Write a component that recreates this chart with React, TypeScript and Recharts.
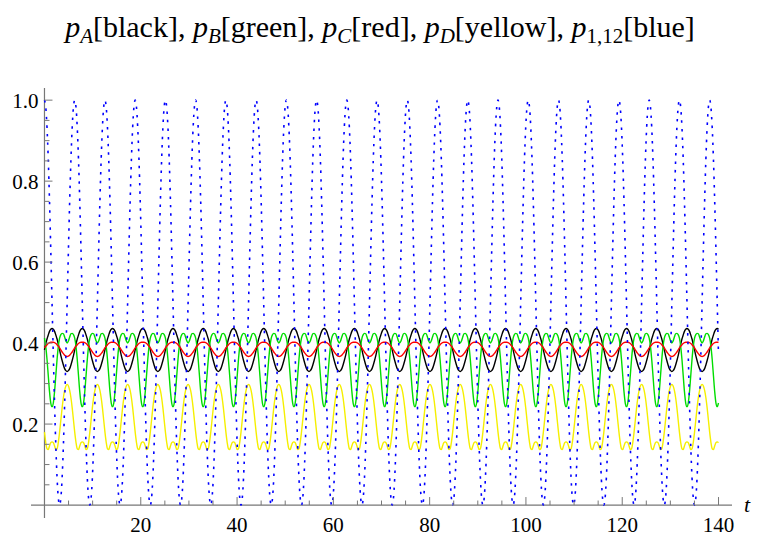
import { LineChart, Line, XAxis, YAxis, ReferenceLine } from "recharts";

// one period of each curve, read at 24 phases 15° apart, starting at t = 0
const blackCycle = [
  0.383, 0.397, 0.41, 0.42, 0.429, 0.434, 0.436, 0.434, 0.429, 0.42, 0.41, 0.397,
  0.383, 0.369, 0.357, 0.346, 0.337, 0.332, 0.33, 0.332, 0.337, 0.346, 0.357, 0.369,
];
const greenCycle = [
  0.412, 0.392, 0.36, 0.32, 0.28, 0.252, 0.243, 0.252, 0.28, 0.32, 0.36, 0.392,
  0.412, 0.421, 0.424, 0.423, 0.415, 0.405, 0.4, 0.405, 0.415, 0.423, 0.424, 0.421,
];
const redCycle = [
  0.388, 0.392, 0.396, 0.399, 0.401, 0.402, 0.402, 0.402, 0.401, 0.399, 0.396, 0.392,
  0.388, 0.383, 0.378, 0.374, 0.37, 0.368, 0.367, 0.368, 0.37, 0.374, 0.378, 0.383,
];
const yellowCycle = [
  0.18, 0.155, 0.139, 0.137, 0.146, 0.154, 0.156, 0.154, 0.146, 0.137, 0.139, 0.155,
  0.18, 0.21, 0.24, 0.265, 0.283, 0.294, 0.298, 0.294, 0.283, 0.265, 0.24, 0.21,
];
const blueCycle = [
  1.0, 0.983, 0.933, 0.854, 0.75, 0.629, 0.5, 0.371, 0.25, 0.146, 0.067, 0.017,
  0.0, 0.017, 0.067, 0.146, 0.25, 0.371, 0.5, 0.629, 0.75, 0.854, 0.933, 0.983,
];

// the blue peaks come back every 6.28 on t, and every curve repeats with it
const period = 6.28;
const tEnd = 140;

const xTicks = [5, 10, 15, 20, 25, 30, 35, 40, 45, 50, 55, 60, 65, 70, 75, 80, 85, 90, 95, 100, 105, 110, 115, 120, 125, 130, 135, 140];
const xLabels = [20, 40, 60, 80, 100, 120, 140];
const yTicks = [0.05, 0.1, 0.15, 0.2, 0.25, 0.3, 0.35, 0.4, 0.45, 0.5, 0.55, 0.6, 0.65, 0.7, 0.75, 0.8, 0.85, 0.9, 0.95, 1.0];
const yLabels = ["0.2", "0.4", "0.6", "0.8", "1.0"];

const step = period / blueCycle.length;
const data: { t: number; black: number; green: number; red: number; yellow: number; blue: number }[] = [];
for (let i = 0; i * step <= tEnd; i++) {
  const k = i % blueCycle.length;
  data.push({
    t: +(i * step).toFixed(3),
    black: blackCycle[k],
    green: greenCycle[k],
    red: redCycle[k],
    yellow: yellowCycle[k],
    blue: blueCycle[k],
  });
}

// layout
const W = 760;
const H = 540;
const xDom = [-2.8, 142.8];
const yDom = [-0.032, 1.03];
const plotLeft = 31;
const plotRight = 732;
const plotTop = 88;
const plotBottom = 518;
const X0 = plotLeft + ((plotRight - plotLeft) * (0 - xDom[0])) / (xDom[1] - xDom[0]);
const Y0 = plotTop + ((plotBottom - plotTop) * (yDom[1] - 0)) / (yDom[1] - yDom[0]);

const axisColor = "#777";
const serifFont = "'Liberation Serif', 'Times New Roman', Times";
const css = `
.mma-plot, .mma-plot * , .mma-plot text, .mma-plot tspan { font-family: 'Liberation Serif', 'Times New Roman', Times !important; }
`;

function XTick(props: any) {
  const { x, payload } = props;
  const v = payload.value;
  const major = xLabels.includes(v);
  return (
    <g>
      <line x1={x} x2={x} y1={Y0} y2={Y0 - (major ? 8 : 4.5)} stroke={axisColor} strokeWidth={1} />
      {major && (
        <text x={x} y={Y0 + 27} textAnchor="middle" fontFamily={serifFont} fontSize={21} fill="#000">
          {v}
        </text>
      )}
    </g>
  );
}

function YTick(props: any) {
  const { y, payload } = props;
  const label = Number(payload.value).toFixed(1);
  const major = Math.abs(payload.value * 5 - Math.round(payload.value * 5)) < 1e-6;
  return (
    <g>
      <line x1={X0} x2={X0 + (major ? 8 : 5)} y1={y} y2={y} stroke={axisColor} strokeWidth={1} />
      {major && yLabels.includes(label) && (
        <text x={X0 - 6} y={y + 7.5} textAnchor="end" fontFamily={serifFont} fontSize={21} fill="#000">
          {label}
        </text>
      )}
    </g>
  );
}

const sub = { fontSize: "0.7em", position: "relative" as const, top: "0.3em" };

export default function App() {
  return (
    <div
      className="mma-plot"
      style={{ position: "relative", margin: "-8px 0 0 -8px", width: W, height: H, background: "#fff", fontFamily: serifFont }}
    >
      <style>{css}</style>
      <div
        style={{
          position: "absolute",
          left: 0,
          top: 12,
          width: W,
          textAlign: "center",
          fontFamily: serifFont,
          fontSize: 30,
          lineHeight: "30px",
          whiteSpace: "nowrap",
        }}
      >
        <i>p</i><i style={sub}>A</i>[black], <i>p</i><i style={sub}>B</i>[green], <i>p</i><i style={sub}>C</i>[red],{" "}
        <i>p</i><i style={sub}>D</i>[yellow], <i>p</i><span style={sub}>1,12</span>[blue]
      </div>
      <span
        style={{
          position: "absolute",
          left: 744,
          top: 494,
          fontFamily: serifFont,
          fontStyle: "italic",
          fontSize: 22,
          lineHeight: "22px",
        }}
      >
        t
      </span>
      <LineChart
        width={W}
        height={H}
        data={data}
        margin={{ top: plotTop, right: W - plotRight, bottom: H - plotBottom - 20, left: 0 }}
      >
        <XAxis
          dataKey="t"
          type="number"
          domain={xDom}
          ticks={xTicks}
          interval={0}
          tick={<XTick />}
          axisLine={false}
          tickLine={false}
          height={20}
          allowDataOverflow
        />
        <YAxis
          type="number"
          domain={yDom}
          ticks={yTicks}
          interval={0}
          tick={<YTick />}
          axisLine={false}
          tickLine={false}
          width={plotLeft}
          allowDataOverflow
        />
        <ReferenceLine x={0} stroke={axisColor} strokeWidth={1.2} />
        <ReferenceLine y={0} stroke={axisColor} strokeWidth={1.2} />
        <Line type="monotone" dataKey="black" stroke="#000000" strokeWidth={1.4} dot={false} isAnimationActive={false} />
        <Line type="monotone" dataKey="green" stroke="#00dd00" strokeWidth={1.4} dot={false} isAnimationActive={false} />
        <Line type="monotone" dataKey="red" stroke="#ff0000" strokeWidth={1.4} dot={false} isAnimationActive={false} />
        <Line type="monotone" dataKey="yellow" stroke="#f5ef00" strokeWidth={1.4} dot={false} isAnimationActive={false} />
        <Line
          type="monotone"
          dataKey="blue"
          stroke="#0000ff"
          strokeWidth={1.6}
          strokeDasharray="2.5 6"
          dot={false}
          isAnimationActive={false}
        />
      </LineChart>
    </div>
  );
}
